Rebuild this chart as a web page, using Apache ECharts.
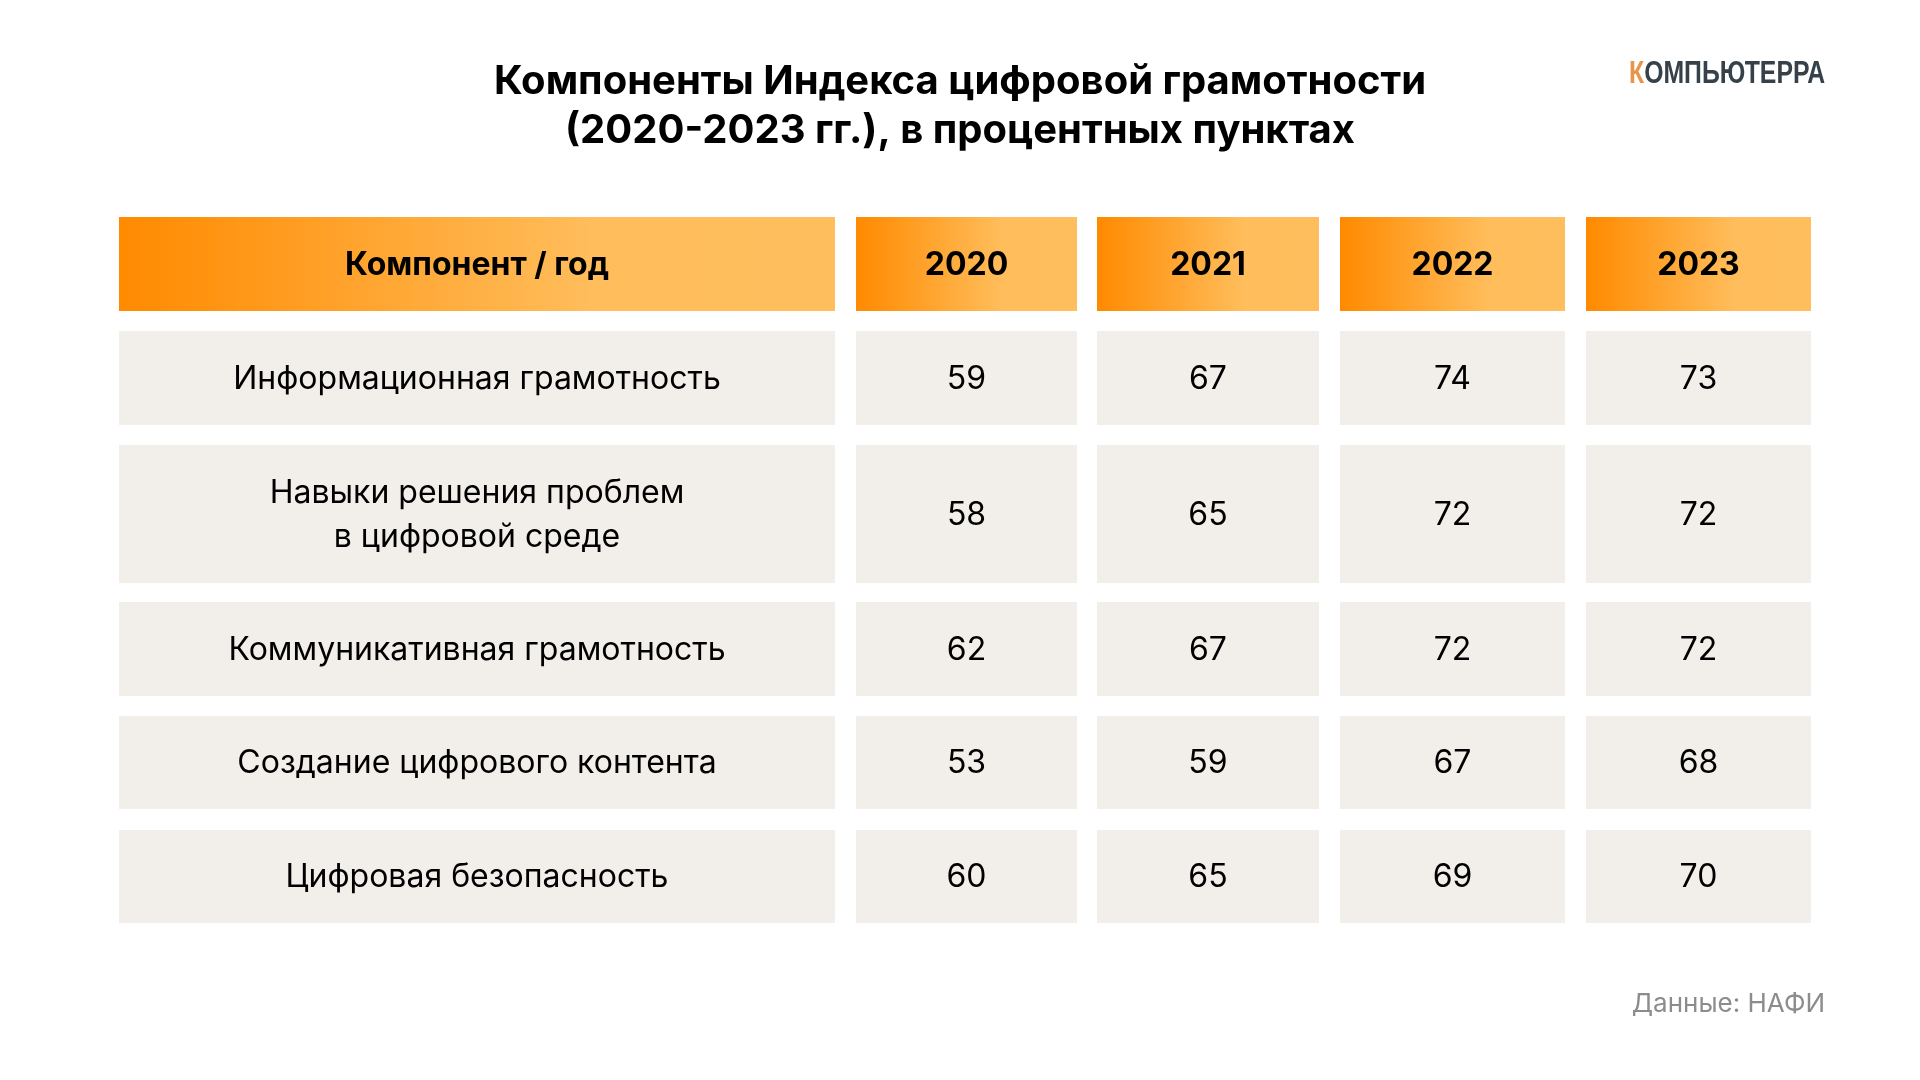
<!DOCTYPE html>
<html>
<head>
<meta charset="utf-8">
<script src="https://cdn.jsdelivr.net/npm/echarts@6/dist/echarts.min.js"></script>
<style>
html,body{margin:0;padding:0;background:#fff;}
#chart{width:1920px;height:1080px;}
</style>
</head>
<body>
<div id="chart"></div>
<script>
// ---- data ----
var headerLabel = 'Компонент / год';
var years = ['2020', '2021', '2022', '2023'];
var components = [
  'Информационная грамотность',
  'Навыки решения проблем\nв цифровой среде',
  'Коммуникативная грамотность',
  'Создание цифрового контента',
  'Цифровая безопасность'
];
var v2020 = [59, 58, 62, 53, 60];
var v2021 = [67, 65, 67, 59, 65];
var v2022 = [74, 72, 72, 67, 69];
var v2023 = [73, 72, 72, 68, 70];
var titleText = 'Компоненты Индекса цифровой грамотности\n(2020-2023 гг.), в процентных пунктах';
var sourceText = 'Данные: НАФИ';

// ---- layout (grid units = px inside grid) ----
var colEdges = [[0, 716], [737, 958], [978, 1200], [1221, 1446], [1467, 1692]];
var rowEdges = [[0, 94], [114, 208], [228, 366], [385, 479], [499, 592], [613, 706]];

var valueCols = [v2020, v2021, v2022, v2023];
var headerCells = [];
var bodyCells = [];
headerCells.push({ value: [0, 0], label: headerLabel });
years.forEach(function (y, i) { headerCells.push({ value: [i + 1, 0], label: y }); });
components.forEach(function (c, r) {
  bodyCells.push({ value: [0, r + 1], label: c });
  valueCols.forEach(function (arr, i) {
    bodyCells.push({ value: [i + 1, r + 1], label: String(arr[r]) });
  });
});

var FONT = 'Inter, "Noto Sans", sans-serif';

function makeRender(cells, isHeader) {
  return function (params, api) {
    var c = api.value(0), r = api.value(1);
    var p0 = api.coord([colEdges[c][0], rowEdges[r][0]]);
    var p1 = api.coord([colEdges[c][1], rowEdges[r][1]]);
    var x = Math.min(p0[0], p1[0]), y = Math.min(p0[1], p1[1]);
    var w = Math.abs(p1[0] - p0[0]), h = Math.abs(p1[1] - p0[1]);
    var fill = isHeader
      ? new echarts.graphic.LinearGradient(0, 0, 1, 0, [
          { offset: 0, color: '#FF8A00' },
          { offset: 0.66, color: '#FFBD5B' },
          { offset: 1, color: '#FFBE5D' }
        ])
      : '#F2EFEB';
    return {
      type: 'group',
      children: [
        { type: 'rect', shape: { x: x, y: y, width: w, height: h }, style: { fill: fill } },
        {
          type: 'text',
          style: {
            text: cells[params.dataIndex].label,
            x: x + w / 2, y: y + h / 2 + 1,
            align: 'center', verticalAlign: 'middle',
            fontFamily: FONT,
            fontSize: 32,
            fontWeight: isHeader ? 700 : 400,
            lineHeight: 44,
            fill: '#000'
          }
        }
      ]
    };
  };
}

var chart = echarts.init(document.getElementById('chart'));
chart.setOption({
  backgroundColor: '#ffffff',
  animation: false,
  title: {
    text: titleText,
    left: 'center',
    top: 57,
    padding: 0,
    textStyle: { fontFamily: FONT, fontSize: 40, fontWeight: 700, lineHeight: 49, color: '#000' }
  },
  grid: { left: 119, top: 217, width: 1692, height: 706 },
  xAxis: { type: 'value', min: 0, max: 1692, show: false },
  yAxis: { type: 'value', min: 0, max: 706, inverse: true, show: false },
  series: [
    { type: 'custom', renderItem: makeRender(headerCells, true), data: headerCells, silent: true },
    { type: 'custom', renderItem: makeRender(bodyCells, false), data: bodyCells, silent: true }
  ],
  graphic: [
    {
      type: 'text', x: 1629, y: 59, scaleX: 0.80,
      style: {
        text: '{k|К}{r|ОМПЬЮТЕРРА}',
        rich: {
          k: { fontFamily: '"Liberation Sans Narrow", "Liberation Sans", sans-serif', fontWeight: 700, fontSize: 31, fill: '#E8954A' },
          r: { fontFamily: '"Liberation Sans Narrow", "Liberation Sans", sans-serif', fontWeight: 700, fontSize: 31, fill: '#36414A' }
        }
      }
    },
    {
      type: 'text', right: 95, top: 991,
      style: { text: sourceText, fontFamily: FONT, fontSize: 26, fill: '#8C8C8C' }
    }
  ]
});
</script>
</body>
</html>
